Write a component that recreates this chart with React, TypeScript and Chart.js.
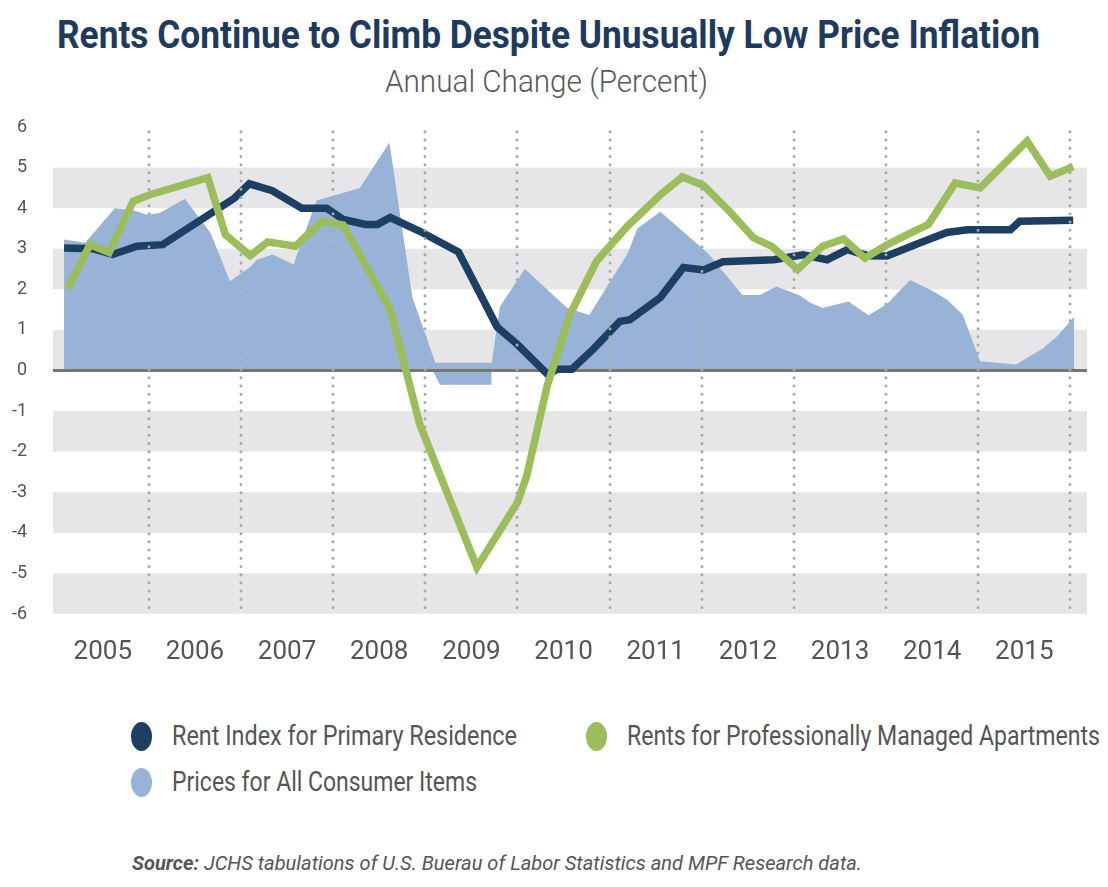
import React, { useEffect, useLayoutEffect, useRef } from "react";
import { Chart, registerables } from "chart.js";

Chart.register(...registerables);

// ---- Data (x values are decimal years) ----
const rentYears = [2005.08, 2005.39, 2005.61, 2005.87, 2006.15, 2006.93, 2007.09, 2007.34, 2007.66, 2007.93, 2008.11, 2008.35, 2008.48, 2008.62, 2008.94, 2009.36, 2009.78, 2010.0, 2010.33, 2010.43, 2010.59, 2010.82, 2011.11, 2011.22, 2011.55, 2011.8, 2012.02, 2012.23, 2012.78, 2013.1, 2013.36, 2013.58, 2013.8, 2014.01, 2014.37, 2014.66, 2014.88, 2015.35, 2015.45, 2016.03];
const rentValues = [3.02, 3.0, 2.86, 3.06, 3.1, 4.25, 4.6, 4.43, 4.0, 4.0, 3.72, 3.6, 3.6, 3.77, 3.43, 2.92, 1.07, 0.64, -0.1, 0.03, 0.03, 0.52, 1.21, 1.25, 1.8, 2.54, 2.48, 2.68, 2.73, 2.85, 2.73, 2.98, 2.83, 2.82, 3.15, 3.4, 3.47, 3.47, 3.68, 3.7];

const apartmentYears = [2005.12, 2005.36, 2005.57, 2005.83, 2006.01, 2006.64, 2006.83, 2007.1, 2007.29, 2007.59, 2007.88, 2008.11, 2008.62, 2008.94, 2009.56, 2010.0, 2010.1, 2010.32, 2010.57, 2010.86, 2011.19, 2011.55, 2011.79, 2012.02, 2012.31, 2012.56, 2012.76, 2013.04, 2013.31, 2013.54, 2013.77, 2014.01, 2014.23, 2014.46, 2014.75, 2015.02, 2015.53, 2015.78, 2016.03];
const apartmentValues = [2.02, 3.1, 2.91, 4.17, 4.33, 4.75, 3.35, 2.83, 3.17, 3.06, 3.68, 3.58, 1.5, -1.33, -4.85, -3.25, -2.6, -0.4, 1.38, 2.7, 3.55, 4.33, 4.77, 4.56, 3.9, 3.27, 3.06, 2.49, 3.06, 3.24, 2.77, 3.1, 3.35, 3.6, 4.62, 4.5, 5.65, 4.79, 5.02];

const cpiYears = [2005.08, 2005.31, 2005.63, 2005.83, 2005.98, 2006.12, 2006.39, 2006.67, 2006.88, 2007.1, 2007.17, 2007.34, 2007.57, 2007.82, 2008.29, 2008.61, 2008.86, 2009.11, 2009.72, 2009.81, 2010.08, 2010.54, 2010.78, 2011.2, 2011.3, 2011.55, 2012.07, 2012.44, 2012.63, 2012.81, 2013.07, 2013.18, 2013.31, 2013.59, 2013.81, 2014.01, 2014.26, 2014.49, 2014.66, 2014.83, 2015.02, 2015.41, 2015.7, 2015.86, 2016.04];
const cpiValues = [3.23, 3.15, 4.0, 3.95, 3.84, 3.88, 4.23, 3.39, 2.2, 2.55, 2.72, 2.86, 2.61, 4.19, 4.5, 5.62, 1.8, 0.19, 0.19, 1.58, 2.5, 1.54, 1.37, 2.9, 3.5, 3.91, 2.88, 1.86, 1.86, 2.07, 1.84, 1.67, 1.54, 1.7, 1.36, 1.64, 2.23, 1.98, 1.75, 1.38, 0.23, 0.15, 0.54, 0.85, 1.33];

// Part of the consumer-price area that falls below zero in 2009
const cpiDipYears = [2009.08, 2009.16, 2009.72];
const cpiDipValues = [0, -0.35, -0.35];

const yearLabels = [2005, 2006, 2007, 2008, 2009, 2010, 2011, 2012, 2013, 2014, 2015];
const yearDividers = [2006, 2007, 2008, 2009, 2010, 2011, 2012, 2013, 2014, 2015, 2016];
const shadedBands = [[4, 5], [2, 3], [0, 1], [-2, -1], [-4, -3], [-6, -5]];

const NAVY = "#1d3f63";
const GREEN = "#9bbd5a";
const LIGHT_BLUE = "#98b3d7";
const TEXT = "#555555";

const toPoints = (xs: number[], ys: number[]) => xs.map((x, i) => ({ x, y: ys[i] }));

const decorPlugin = {
  id: "decor",
  beforeDatasetsDraw(chart: any) {
    const { ctx, chartArea, scales } = chart;
    const y = scales.y;
    ctx.save();
    ctx.fillStyle = "#e6e6e8";
    shadedBands.forEach(([lo, hi]) => {
      const top = y.getPixelForValue(hi);
      const bot = y.getPixelForValue(lo);
      ctx.fillRect(chartArea.left, top, chartArea.right - chartArea.left, bot - top);
    });
    ctx.restore();
  },
  afterDatasetDraw(chart: any, args: any) {
    if (args.index !== 0) return;
    const { ctx, chartArea, scales } = chart;
    const y0 = scales.y.getPixelForValue(0);
    ctx.save();
    ctx.strokeStyle = "#78786a";
    ctx.lineWidth = 3;
    ctx.beginPath();
    ctx.moveTo(chartArea.left, y0);
    ctx.lineTo(chartArea.right, y0);
    ctx.stroke();
    ctx.restore();
  },
  afterDatasetsDraw(chart: any) {
    const { ctx, scales } = chart;
    const top = scales.y.getPixelForValue(5.88);
    const bot = scales.y.getPixelForValue(-6);
    ctx.save();
    ctx.strokeStyle = "#a8a8a8";
    ctx.lineWidth = 3;
    ctx.lineCap = "round";
    ctx.setLineDash([0, 8.2]);
    yearDividers.forEach((yr) => {
      const px = Math.round(scales.x.getPixelForValue(yr));
      ctx.beginPath();
      ctx.moveTo(px, top);
      ctx.lineTo(px, bot);
      ctx.stroke();
    });
    ctx.restore();
  },
};

function FitText({ left, top, width, style, children }: any) {
  const ref = useRef<HTMLDivElement>(null);
  useLayoutEffect(() => {
    const fit = () => {
      const el = ref.current;
      if (!el) return;
      el.style.transform = "none";
      const w = el.getBoundingClientRect().width;
      if (w > 0) el.style.transform = `scaleX(${width / w})`;
    };
    fit();
    if ((document as any).fonts && (document as any).fonts.ready) {
      (document as any).fonts.ready.then(fit);
    }
  }, [width]);
  return (
    <div
      ref={ref}
      style={{
        position: "absolute",
        left,
        top,
        whiteSpace: "nowrap",
        transformOrigin: "0 0",
        lineHeight: 1,
        ...style,
      }}
    >
      {children}
    </div>
  );
}

function Dot({ left, top, color }: any) {
  return (
    <div
      style={{
        position: "absolute",
        left,
        top,
        width: 21,
        height: 29,
        borderRadius: "50%",
        background: color,
      }}
    />
  );
}

export default function App() {
  const canvasRef = useRef<HTMLCanvasElement>(null);

  useEffect(() => {
    if (!canvasRef.current) return;
    const chart = new Chart(canvasRef.current, {
      type: "line",
      data: {
        datasets: [
          {
            label: "Prices for All Consumer Items",
            data: toPoints(cpiYears, cpiValues),
            borderWidth: 0,
            backgroundColor: LIGHT_BLUE,
            borderColor: LIGHT_BLUE,
            fill: "origin",
            pointRadius: 0,
            tension: 0,
            order: 2,
          },
          {
            label: "dip",
            data: toPoints(cpiDipYears, cpiDipValues),
            borderWidth: 0,
            backgroundColor: LIGHT_BLUE,
            borderColor: LIGHT_BLUE,
            fill: "origin",
            pointRadius: 0,
            tension: 0,
            order: 3,
          },
          {
            label: "Rent Index for Primary Residence",
            data: toPoints(rentYears, rentValues),
            borderColor: NAVY,
            borderWidth: 7.5,
            fill: false,
            pointRadius: 0,
            tension: 0,
            order: 1,
          },
          {
            label: "Rents for Professionally Managed Apartments",
            data: toPoints(apartmentYears, apartmentValues),
            borderColor: GREEN,
            borderWidth: 7.5,
            fill: false,
            pointRadius: 0,
            tension: 0,
            order: 0,
          },
        ],
      },
      options: {
        animation: false,
        responsive: false,
        devicePixelRatio: 1,
        layout: { padding: { top: 27, right: 21, left: 0, bottom: 0 } },
        plugins: {
          legend: { display: false },
          tooltip: { enabled: false },
          title: { display: false },
        },
        scales: {
          x: {
            type: "linear",
            min: 2004.96,
            max: 2016.18,
            grid: { display: false, drawTicks: false },
            border: { display: false },
            afterBuildTicks: (scale: any) => {
              scale.ticks = yearLabels.map((v) => ({ value: v + 0.5 }));
            },
            afterFit: (scale: any) => {
              scale.height = 66;
              scale.paddingLeft = 0;
              scale.paddingRight = 0;
            },
            ticks: {
              autoSkip: false,
              maxRotation: 0,
              padding: 23,
              color: TEXT,
              font: { family: "Roboto", size: 26 },
              callback: (v: any) => String(Math.floor(Number(v))),
            },
          },
          y: {
            type: "linear",
            min: -6,
            max: 6,
            grid: { display: false, drawTicks: false },
            border: { display: false },
            afterFit: (scale: any) => {
              scale.width = 53;
              scale.paddingTop = 0;
              scale.paddingBottom = 0;
            },
            ticks: {
              stepSize: 1,
              padding: 26,
              color: TEXT,
              font: { family: "Roboto", size: 18 },
              callback: (v: any) => String(v),
            },
          },
        },
      },
      plugins: [decorPlugin],
    });
    return () => chart.destroy();
  }, []);

  return (
    <div
      style={{
        position: "absolute",
        left: 0,
        top: 0,
        width: 1108,
        height: 887,
        background: "#ffffff",
        overflow: "hidden",
        fontFamily: "Roboto, sans-serif",
      }}
    >
      <FitText left={57} top={16} width={983} style={{ fontSize: 38, fontWeight: 700, color: "#1f3a5f" }}>
        Rents Continue to Climb Despite Unusually Low Price Inflation
      </FitText>
      <FitText left={385} top={66} width={323} style={{ fontSize: 31, fontWeight: 300, color: "#595959" }}>
        Annual Change (Percent)
      </FitText>

      <canvas
        ref={canvasRef}
        width={1108}
        height={580}
        style={{ position: "absolute", left: 0, top: 100, width: 1108, height: 580 }}
      />

      <Dot left={131} top={722} color={NAVY} />
      <FitText left={172} top={723} width={345} style={{ fontSize: 27, color: TEXT }}>
        Rent Index for Primary Residence
      </FitText>
      <Dot left={586} top={722} color={GREEN} />
      <FitText left={627} top={723} width={473} style={{ fontSize: 27, color: TEXT }}>
        Rents for Professionally Managed Apartments
      </FitText>
      <Dot left={131} top={768} color={LIGHT_BLUE} />
      <FitText left={172} top={769} width={305} style={{ fontSize: 27, color: TEXT }}>
        Prices for All Consumer Items
      </FitText>

      <FitText left={132} top={853} width={730} style={{ fontSize: 20, color: TEXT, fontStyle: "italic" }}>
        <span style={{ fontWeight: 700 }}>Source:</span> JCHS tabulations of U.S. Buerau of Labor Statistics and MPF Research data.
      </FitText>
    </div>
  );
}
